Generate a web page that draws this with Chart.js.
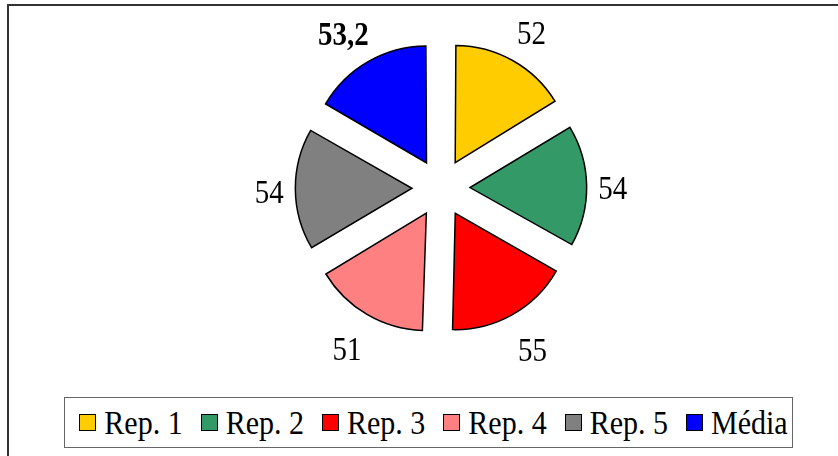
<!DOCTYPE html>
<html>
<head>
<meta charset="utf-8">
<script src="https://cdn.jsdelivr.net/npm/chart.js@4/dist/chart.umd.min.js"></script>
<style>
  html, body { margin: 0; padding: 0; background: #fff; }
  #wrap { position: relative; width: 838px; height: 456px; overflow: hidden; }
  #frame { position: absolute; left: 7px; top: 4px; width: 900px; height: 500px;
           border-left: 2px solid #333; border-top: 2px solid #333; }
  #c { position: absolute; left: 0; top: 0; }
  #legend { position: absolute; left: 64px; top: 397px; width: 729px; height: 51px;
            border: 1px solid #666; box-sizing: border-box; background: #fff; padding-left: 10px;
            display: flex; align-items: center; justify-content: center; white-space: nowrap;
            font-family: "Liberation Serif", "Times New Roman", serif; font-size: 30px; color: #000; }
  .item { display: flex; align-items: center; margin: 0 9px; flex-shrink: 0; }
  .sw { width: 15px; height: 15px; border: 1.5px solid #000; margin-right: 8px; flex-shrink: 0; }
  .tx { display: inline-block; transform: scaleY(1.12); white-space: nowrap; }
</style>
</head>
<body>
<div id="wrap">
  <div id="frame"></div>
  <canvas id="c" width="838" height="456"></canvas>
  <div id="legend"></div>
</div>
<script>
const categories = ["Rep. 1", "Rep. 2", "Rep. 3", "Rep. 4", "Rep. 5", "Média"];
const values = [52, 54, 55, 51, 54, 53.2];
const valueLabels = ["52", "54", "55", "51", "54", "53,2"];
const colors = ["#FFCC00", "#339966", "#FF0000", "#FF8080", "#808080", "#0000FF"];

const EXPLODE = 116;     // Chart.js offset option (slice shifted by offset/4)
const RADIUS = 113;
const LABEL_FONT = '29px "Liberation Serif", "Times New Roman", serif';
const LABEL_FONT_BOLD = 'bold 29px "Liberation Serif", "Times New Roman", serif';

const labelPlugin = {
  id: 'valueLabels',
  afterDatasetsDraw(chart) {
    const ctx = chart.ctx;
    const meta = chart.getDatasetMeta(0);
    meta.data.forEach((arc, i) => {
      const p = arc.getProps(['x', 'y', 'startAngle', 'endAngle', 'outerRadius'], true);
      const a = (p.startAngle + p.endAngle) / 2;
      const cx = Math.cos(a), cy = Math.sin(a);
      const gap = 11 + 15 * Math.max(-cy, 0) + 17 * Math.max(cy, 0);
      const dist = p.outerRadius + 4 + arc.options.offset / 4 + gap;
      ctx.save();
      ctx.font = (i === values.length - 1) ? LABEL_FONT_BOLD : LABEL_FONT;
      ctx.fillStyle = '#000';
      ctx.textAlign = 'center';
      ctx.textBaseline = 'middle';
      const txt = valueLabels[i];
      const w = ctx.measureText(txt).width;
      const h = 22;
      const x = p.x + cx * dist + cx * w / 2;
      const y = p.y + cy * dist + cy * h / 2;
      ctx.translate(x, y + 4);
      ctx.scale(1, 1.15);
      ctx.fillText(txt, 0, 1);
      ctx.restore();
    });
  }
};

const chart = new Chart(document.getElementById('c'), {
  type: 'pie',
  data: {
    labels: categories,
    datasets: [{
      data: values,
      backgroundColor: colors,
      borderColor: '#000',
      borderWidth: 1.5,
      borderJoinStyle: 'miter',
      offset: EXPLODE
    }]
  },
  options: {
    responsive: false,
    animation: false,
    events: [],
    radius: RADIUS,
    layout: { padding: { left: 44, right: 0, top: 0, bottom: 80 } },
    plugins: {
      legend: { display: false },
      tooltip: { enabled: false }
    }
  },
  plugins: [labelPlugin]
});

// legend
const lg = document.getElementById('legend');
categories.forEach((c, i) => {
  const it = document.createElement('div');
  it.className = 'item';
  const sw = document.createElement('span');
  sw.className = 'sw';
  sw.style.background = colors[i];
  const tx = document.createElement('span');
  tx.className = 'tx';
  tx.textContent = c;
  it.appendChild(sw); it.appendChild(tx);
  lg.appendChild(it);
});
</script>
</body>
</html>
